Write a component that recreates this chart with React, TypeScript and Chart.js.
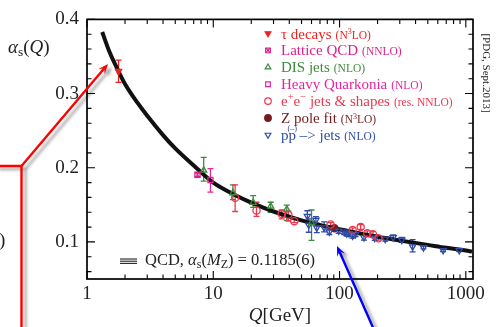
import React, { useEffect, useRef } from 'react';
import { Chart, registerables } from 'chart.js';
import { drawPoint } from 'chart.js/helpers';
Chart.register(...registerables);

// ---------------- data ----------------
const curveQ = [1.32, 1.5, 1.777, 2, 2.5, 3, 4, 5, 7, 10, 15, 20, 30, 50, 91.2, 150, 200, 300, 500, 700, 1000, 1120];
const curveA = [0.383, 0.357, 0.330, 0.313, 0.288, 0.270, 0.244, 0.226, 0.203, 0.180, 0.163, 0.153, 0.141, 0.129, 0.1185, 0.111, 0.107, 0.102, 0.096, 0.092, 0.0885, 0.087];

const tauQ = [1.777];
const tauA = [0.330];
const tauLo = [0.315];
const tauHi = [0.345];

const latQ = [7.5];
const latA = [0.1905];
const latLo = [0.188];
const latHi = [0.193];

const disQ = [8.4, 14.3, 20.7, 28.5, 38.2, 60];
const disA = [0.1965, 0.166, 0.153, 0.148, 0.144, 0.1257];
const disLo = [0.182, 0.157, 0.1465, 0.140, 0.129, 0.102];
const disHi = [0.214, 0.177, 0.1625, 0.1535, 0.1495, 0.143];

const hqQ = [9.5];
const hqA = [0.1834];
const hqLo = [0.167];
const hqHi = [0.1987];

const eeQ = [14.9, 22.0, 34.8, 39.3, 43.8, 85, 127, 147, 166, 184, 203];
const eeA = [0.1596, 0.1425, 0.1378, 0.1365, 0.128, 0.1235, 0.1162, 0.1200, 0.1117, 0.1104, 0.1048];
const eeLo = [0.141, 0.1345, 0.131, 0.128, 0.126, 0.121, 0.113, 0.117, 0.108, 0.107, 0.1025];
const eeHi = [0.177, 0.1535, 0.143, 0.1415, 0.131, 0.126, 0.119, 0.1235, 0.115, 0.114, 0.107];

const zQ = [91.19];
const zA = [0.1183];
const zLo = [0.1176];
const zHi = [0.119];

const ppQ = [55.6, 57, 65, 66, 75.5, 83, 98.5, 108.6, 114, 119, 127, 134, 156, 190, 230, 266, 311, 379, 462, 661, 888];
const ppA = [0.1348, 0.123, 0.1295, 0.119, 0.1192, 0.1135, 0.1149, 0.1135, 0.1113, 0.1113, 0.1083, 0.1104, 0.1061, 0.1052, 0.1039, 0.1061, 0.1026, 0.0937, 0.0924, 0.0885, 0.0885];
const ppLo = [0.127, 0.113, 0.125, 0.1125, 0.1135, 0.110, 0.1115, 0.110, 0.108, 0.108, 0.105, 0.107, 0.1025, 0.102, 0.101, 0.1025, 0.0995, 0.0866, 0.0905, 0.087, 0.087];
const ppHi = [0.142, 0.131, 0.134, 0.125, 0.127, 0.117, 0.118, 0.117, 0.1145, 0.1145, 0.1115, 0.114, 0.110, 0.109, 0.107, 0.1095, 0.106, 0.103, 0.0945, 0.090, 0.090];

const xTicks = [1, 10, 100, 1000];
const yTicks = [0.1, 0.2, 0.3, 0.4];
const xMin = 1;
const xMax = 1140;
const yMin = 0.05;
const yMax = 0.4;

const legendNames = ['τ decays', 'Lattice QCD', 'DIS jets', 'Heavy Quarkonia', 'e^+e^− jets & shapes', 'Z pole fit', 'p~p –> jets'];
const legendOrders = ['(N^3LO)', '(NNLO)', '(NLO)', '(NLO)', '(res. NNLO)', '(N^3LO)', '(NLO)'];
const bandLabel = '0.1185(6)';
const sourceNote = '[PDG, Sept.2013]';

// ---------------- styles ----------------
const SERIF = "'Liberation Serif', 'DejaVu Serif', serif";
const C_TAU = '#f02020';
const C_LAT = '#de1f8a';
const C_DIS = '#3d8a3d';
const C_HQ = '#e6249c';
const C_EE = '#f0364e';
const C_Z = '#741c1c';
const C_PP = '#2f4ca8';

const pts = (q: number[], a: number[]) => q.map((v, i) => ({ x: v, y: a[i] }));

type Marker = { style: string; rot: number; fill: boolean; color: string; cross?: boolean };
const markers: Marker[] = [
  { style: 'triangle', rot: 180, fill: true, color: C_TAU },
  { style: 'rect', rot: 0, fill: false, color: C_LAT, cross: true },
  { style: 'triangle', rot: 0, fill: false, color: C_DIS },
  { style: 'rect', rot: 0, fill: false, color: C_HQ },
  { style: 'circle', rot: 0, fill: false, color: C_EE },
  { style: 'circle', rot: 0, fill: true, color: C_Z },
  { style: 'triangle', rot: 180, fill: false, color: C_PP },
];

function drawRich(ctx: CanvasRenderingContext2D, x: number, y: number, s: string, size: number, color: string) {
  let cx = x;
  ctx.fillStyle = color;
  for (let i = 0; i < s.length; i++) {
    const ch = s[i];
    if (ch === '^' && i + 1 < s.length) {
      const c2 = s[++i];
      ctx.font = `${size * 0.7}px ${SERIF}`;
      ctx.fillText(c2, cx, y - size * 0.38);
      cx += ctx.measureText(c2).width;
    } else if (ch === '~' && i + 1 < s.length) {
      const c2 = s[++i];
      ctx.font = `${size}px ${SERIF}`;
      const w = ctx.measureText(c2).width;
      ctx.fillText(c2, cx, y);
      ctx.font = `${size * 0.55}px ${SERIF}`;
      const ow = ctx.measureText('(–)').width;
      ctx.fillText('(–)', cx + w / 2 - ow / 2, y - size * 0.62);
      cx += w;
    } else {
      ctx.font = `${size}px ${SERIF}`;
      ctx.fillText(ch, cx, y);
      cx += ctx.measureText(ch).width;
    }
  }
  return cx;
}

type Seg = { t: string; size: number; italic?: boolean; dy?: number };
function drawSegs(ctx: CanvasRenderingContext2D, x: number, y: number, segs: Seg[], color: string, measureOnly = false) {
  let cx = x;
  ctx.fillStyle = color;
  for (const sg of segs) {
    ctx.font = `${sg.italic ? 'italic ' : ''}${sg.size}px ${SERIF}`;
    if (!measureOnly) ctx.fillText(sg.t, cx, y + (sg.dy || 0));
    cx += ctx.measureText(sg.t).width;
  }
  return cx - x;
}

function arrow(ctx: CanvasRenderingContext2D, x0: number, y0: number, x1: number, y1: number) {
  const ang = Math.atan2(y1 - y0, x1 - x0);
  const L = 10;
  const W = 4.2;
  ctx.beginPath();
  ctx.moveTo(x0, y0);
  ctx.lineTo(x1 - Math.cos(ang) * 6, y1 - Math.sin(ang) * 6);
  ctx.stroke();
  ctx.beginPath();
  ctx.moveTo(x1, y1);
  ctx.lineTo(x1 - L * Math.cos(ang) + W * Math.sin(ang), y1 - L * Math.sin(ang) - W * Math.cos(ang));
  ctx.lineTo(x1 - 6 * Math.cos(ang), y1 - 6 * Math.sin(ang));
  ctx.lineTo(x1 - L * Math.cos(ang) - W * Math.sin(ang), y1 - L * Math.sin(ang) + W * Math.cos(ang));
  ctx.closePath();
  ctx.fill();
}

const errorBars = {
  id: 'errorBars',
  beforeDatasetsDraw(chart: any) {
    const { ctx, scales, chartArea } = chart;
    const x = scales.x;
    const y = scales.y;
    ctx.save();
    ctx.beginPath();
    ctx.rect(chartArea.left, chartArea.top, chartArea.right - chartArea.left, chartArea.bottom - chartArea.top);
    ctx.clip();
    chart.data.datasets.forEach((ds: any) => {
      if (!ds.errLo) return;
      ctx.strokeStyle = ds.borderColor;
      ctx.lineWidth = 1.3;
      ds.data.forEach((p: any, j: number) => {
        const px = x.getPixelForValue(p.x);
        const yl = y.getPixelForValue(ds.errLo[j]);
        const yh = y.getPixelForValue(ds.errHi[j]);
        ctx.beginPath();
        ctx.moveTo(px, yl);
        ctx.lineTo(px, yh);
        ctx.moveTo(px - 3, yl);
        ctx.lineTo(px + 3, yl);
        ctx.moveTo(px - 3, yh);
        ctx.lineTo(px + 3, yh);
        ctx.stroke();
      });
    });
    ctx.restore();
  },
};

const decorations = {
  id: 'decorations',
  afterDraw(chart: any) {
    const { ctx, chartArea: a, scales } = chart;
    const xs = scales.x;
    const ys = scales.y;
    ctx.save();
    // frame
    ctx.strokeStyle = '#000';
    ctx.lineWidth = 1.7;
    ctx.strokeRect(a.left, a.top, a.right - a.left, a.bottom - a.top);
    ctx.lineWidth = 1.1;
    // y ticks (every 0.02, major every 0.1)
    for (let k = 3; k <= 20; k++) {
      const v = k * 0.02;
      if (v < yMin - 1e-9 || v > yMax + 1e-9) continue;
      const py = ys.getPixelForValue(v);
      const major = k % 5 === 0;
      const len = major ? 8 : 4.5;
      ctx.beginPath();
      ctx.moveTo(a.left, py);
      ctx.lineTo(a.left + len, py);
      ctx.moveTo(a.right, py);
      ctx.lineTo(a.right - len, py);
      ctx.stroke();
    }
    // x ticks (log)
    for (let d = 1; d <= 1000; d *= 10) {
      for (let m = 1; m <= 9; m++) {
        const v = d * m;
        if (v < xMin || v > xMax) continue;
        const px = xs.getPixelForValue(v);
        const len = m === 1 ? 8 : 4.5;
        ctx.beginPath();
        ctx.moveTo(px, a.bottom);
        ctx.lineTo(px, a.bottom - len);
        ctx.moveTo(px, a.top);
        ctx.lineTo(px, a.top + len);
        ctx.stroke();
      }
    }
    // legend
    ctx.textBaseline = 'alphabetic';
    legendNames.forEach((name, i) => {
      const yy = 33.5 + i * 16.9;
      const mk = markers[i];
      ctx.strokeStyle = mk.color;
      ctx.fillStyle = mk.fill ? mk.color : 'rgba(0,0,0,0)';
      ctx.lineWidth = 1.2;
      drawPoint(ctx, { pointStyle: mk.style as any, rotation: mk.rot, radius: 3.3, borderWidth: 1.2 }, 268, yy);
      if (mk.cross) {
        ctx.fillStyle = 'rgba(0,0,0,0)';
        drawPoint(ctx, { pointStyle: 'crossRot', rotation: 0, radius: 2.8, borderWidth: 1 }, 268, yy);
      }
      const ex = drawRich(ctx, 281, yy + 5, name, 15, mk.color);
      drawRich(ctx, ex + 4, yy + 5, legendOrders[i], 11.5, mk.color);
    });
    // QCD band legend
    ctx.strokeStyle = '#222';
    ctx.lineWidth = 1.1;
    for (let k = 0; k < 3; k++) {
      ctx.beginPath();
      ctx.moveTo(120, 259 + k * 2.2);
      ctx.lineTo(137, 259 + k * 2.2);
      ctx.stroke();
    }
    drawSegs(ctx, 145, 265, [
      { t: 'QCD, ', size: 16.5 },
      { t: 'α', size: 16.5, italic: true },
      { t: 's', size: 12, dy: 3 },
      { t: '(', size: 16.5 },
      { t: 'M', size: 16.5, italic: true },
      { t: 'Z', size: 12, dy: 3 },
      { t: ') = ' + bandLabel, size: 16.5 },
    ], '#222');
    // y title
    drawSegs(ctx, 8, 53, [
      { t: 'α', size: 19, italic: true },
      { t: 's', size: 13.5, dy: 3 },
      { t: '(', size: 19 },
      { t: 'Q', size: 19, italic: true },
      { t: ')', size: 19 },
    ], '#222');
    // x title
    const xt: Seg[] = [
      { t: 'Q', size: 19, italic: true },
      { t: '[GeV]', size: 19 },
    ];
    const w = drawSegs(ctx, 0, 0, xt, '#222', true);
    drawSegs(ctx, (a.left + a.right) / 2 - w / 2, 321, xt, '#222');
    // stray ')' from the cropped neighbouring panel
    ctx.font = `19px ${SERIF}`;
    ctx.fillText(')', -1, 246);
    // source note, rotated
    ctx.save();
    ctx.translate(483, 73);
    ctx.rotate(Math.PI / 2);
    ctx.font = `11px ${SERIF}`;
    ctx.fillStyle = '#222';
    const nw = ctx.measureText(sourceNote).width;
    ctx.fillText(sourceNote, -nw / 2, 0);
    ctx.restore();

    // annotation arrows with soft shadows
    ctx.lineCap = 'butt';
    ctx.lineJoin = 'miter';
    ctx.shadowColor = 'rgba(0,0,0,0.35)';
    ctx.shadowBlur = 3;
    ctx.shadowOffsetX = 4;
    ctx.shadowOffsetY = 3;
    ctx.lineWidth = 2.4;
    ctx.strokeStyle = '#ff0000';
    ctx.fillStyle = '#ff0000';
    ctx.beginPath();
    ctx.moveTo(-5, 166);
    ctx.lineTo(21.5, 166);
    ctx.lineTo(21.5, 335);
    ctx.stroke();
    arrow(ctx, 21.5, 166, 108, 64);
    ctx.strokeStyle = '#0000ff';
    ctx.fillStyle = '#0000ff';
    arrow(ctx, 375, 332, 337, 246);
    ctx.restore();
  },
};

export default function App() {
  const ref = useRef<HTMLCanvasElement | null>(null);
  useEffect(() => {
    document.body.style.margin = '0';
    const canvas = ref.current!;
    const mkDs = (label: string, q: number[], a: number[], lo: number[], hi: number[], i: number) => {
      const mk = markers[i];
      return {
        label,
        data: pts(q, a),
        errLo: lo,
        errHi: hi,
        pointStyle: mk.style,
        rotation: mk.rot,
        pointRadius: 3.6,
        borderWidth: 1.3,
        borderColor: mk.color,
        backgroundColor: mk.fill ? mk.color : 'rgba(255,255,255,0)',
        showLine: false,
        order: 1,
      } as any;
    };
    const datasets: any[] = [
      {
        label: 'QCD',
        data: pts(curveQ, curveA),
        showLine: true,
        borderColor: '#111',
        borderWidth: 4,
        pointRadius: 0,
        cubicInterpolationMode: 'monotone',
        order: 5,
      },
      mkDs('tau', tauQ, tauA, tauLo, tauHi, 0),
      mkDs('lattice', latQ, latA, latLo, latHi, 1),
      { label: 'lattice-x', data: pts(latQ, latA), pointStyle: 'crossRot', pointRadius: 2.8, borderWidth: 1, borderColor: C_LAT, showLine: false, order: 0 },
      mkDs('dis', disQ, disA, disLo, disHi, 2),
      mkDs('hq', hqQ, hqA, hqLo, hqHi, 3),
      mkDs('ee', eeQ, eeA, eeLo, eeHi, 4),
      mkDs('pp', ppQ, ppA, ppLo, ppHi, 6),
      mkDs('z', zQ, zA, zLo, zHi, 5),
    ];
    const tickFont = { family: SERIF, size: 19 };
    const chart = new Chart(canvas, {
      type: 'scatter',
      data: { datasets },
      options: {
        animation: false,
        responsive: false,
        devicePixelRatio: 1,
        layout: { padding: { left: 0, right: 23, top: 10.6, bottom: 0 } },
        plugins: { legend: { display: false }, tooltip: { enabled: false } },
        scales: {
          x: {
            type: 'logarithmic',
            min: xMin,
            max: xMax,
            afterBuildTicks: (s: any) => { s.ticks = xTicks.map((v) => ({ value: v })); },
            afterFit: (s: any) => { s.height = 48; },
            ticks: { font: tickFont, color: '#222', padding: 4, maxRotation: 0, autoSkip: false, callback: (v: any) => String(v) },
            grid: { display: false, drawTicks: false },
            border: { display: false },
          },
          y: {
            type: 'linear',
            min: yMin,
            max: yMax,
            afterBuildTicks: (s: any) => { s.ticks = yTicks.map((v) => ({ value: v })); },
            afterFit: (s: any) => { s.width = 87; },
            ticks: { font: tickFont, color: '#222', padding: 8, callback: (v: any) => Number(v).toFixed(1) },
            grid: { display: false, drawTicks: false },
            border: { display: false },
          },
        },
      } as any,
      plugins: [errorBars, decorations],
    });
    return () => chart.destroy();
  }, []);
  return (
    <div style={{ position: 'fixed', left: 0, top: 0, width: 496, height: 327, background: '#fff' }}>
      <canvas ref={ref} width={496} height={327} style={{ width: 496, height: 327 }} />
    </div>
  );
}
